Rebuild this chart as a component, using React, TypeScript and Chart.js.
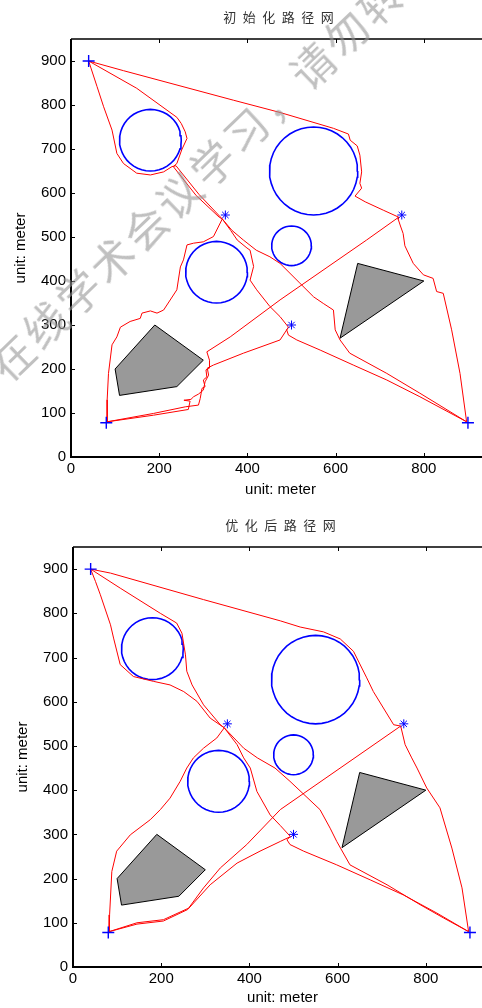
import React, { useEffect, useRef } from "react";
import { Chart, registerables } from "chart.js";

Chart.register(...registerables);
Chart.defaults.font.family = "'Liberation Sans', Arial, sans-serif";

// ---------- axes ----------
const X_TICKS = [0, 200, 400, 600, 800];
const Y_TICKS = [0, 100, 200, 300, 400, 500, 600, 700, 800, 900];
const AXIS_MAX = 950;

// ---------- nodes ----------
const START_X = [40, 80, 900];
const START_Y = [900, 78, 78];
const STAR_X = [350, 750, 500];
const STAR_Y = [550, 550, 300];

// ---------- obstacles ----------
const CIRCLE_X = [180, 550, 330, 500];
const CIRCLE_Y = [720, 650, 420, 480];
const CIRCLE_R = [70, 100, 70, 45];
const PENT_X = [190, 300, 240, 110, 100, 190];
const PENT_Y = [300, 220, 160, 140, 200, 300];
const TRI_X = [650, 800, 610, 650];
const TRI_Y = [440, 400, 270, 440];

// ---------- initial network (top) ----------
const I_P1S2_X = [40, 119, 368, 474, 595, 629, 633, 649, 655, 659, 655, 659, 644, 667, 708, 743];
const I_P1S2_Y = [900, 878, 811, 783, 747, 734, 720, 707, 686, 648, 622, 611, 593, 580, 561, 545];
const I_S2P3_X = [743, 742, 747, 753, 757, 776, 799, 821, 829, 844, 863, 882, 897];
const I_S2P3_Y = [545, 540, 525, 508, 480, 440, 414, 406, 376, 372, 289, 190, 80];
const I_P1S1A_X = [40, 149, 240, 250, 259, 263, 251, 240, 232, 284, 336, 343];
const I_P1S1A_Y = [900, 838, 772, 758, 739, 724, 698, 667, 660, 594, 545, 541];
const I_P1S1B_X = [40, 59, 74, 93, 104, 119, 149, 180, 210, 229, 238, 290, 343];
const I_P1S1B_Y = [900, 842, 796, 743, 690, 667, 645, 641, 648, 660, 662, 597, 541];
const I_S1S3_X = [343, 362, 377, 399, 406, 414, 406, 421, 451, 474, 493];
const I_S1S3_Y = [541, 515, 493, 475, 470, 433, 402, 380, 342, 319, 295];
const I_S1P3_X = [343, 365, 391, 420, 451, 474, 519, 550, 572, 595, 599, 610, 632, 716, 791, 897];
const I_S1P3_Y = [541, 515, 493, 470, 455, 440, 395, 364, 349, 334, 289, 266, 236, 190, 145, 80];
const I_S3P3_X = [493, 489, 493, 512, 565, 640, 716, 791, 897];
const I_S3P3_Y = [295, 289, 277, 266, 243, 209, 175, 137, 80];
const I_S1P2_X = [343, 323, 300, 278, 263, 255, 248, 240, 210, 195, 180, 161, 157, 134, 112, 104, 93, 85, 82, 82];
const I_S1P2_Y = [541, 501, 489, 486, 482, 448, 432, 380, 334, 327, 332, 327, 315, 308, 295, 273, 255, 190, 130, 80];
const I_P2S2_X = [82, 187, 259, 289, 293, 297, 304, 300, 308, 306, 314, 314, 308, 361, 474, 670, 743];
const I_P2S2_Y = [80, 99, 114, 118, 133, 156, 160, 175, 182, 198, 202, 220, 239, 273, 357, 493, 545];
const I_P2S3_X = [82, 187, 266, 270, 256, 272, 278, 289, 300, 304, 312, 309, 323, 391, 474, 493];
const I_P2S3_Y = [80, 95, 108, 127, 129, 131, 137, 143, 152, 171, 186, 202, 209, 236, 266, 295];

// ---------- optimized network (bottom) ----------
const O_P1S2_X = [40, 85, 296, 470, 515, 568, 606, 636, 666, 681, 727, 743];
const O_P1S2_Y = [900, 891, 831, 783, 769, 758, 742, 714, 654, 623, 548, 545];
const O_S2P3_X = [743, 753, 768, 780, 802, 832, 859, 882, 897];
const O_S2P3_Y = [545, 503, 473, 450, 405, 360, 269, 179, 80];
const O_P1S1A_X = [40, 107, 198, 235, 247, 255, 258, 270, 296, 334, 343];
const O_P1S1A_Y = [900, 857, 800, 778, 755, 706, 669, 638, 593, 548, 541];
const O_P1S1B_X = [40, 51, 62, 85, 92, 107, 137, 183, 220, 251, 281, 311, 343];
const O_P1S1B_Y = [900, 872, 842, 774, 744, 684, 657, 646, 638, 623, 601, 563, 541];
const O_S1S3_X = [343, 372, 387, 402, 417, 447, 470, 493];
const O_S1S3_Y = [541, 503, 473, 450, 397, 344, 320, 295];
const O_S1P3_X = [343, 387, 418, 458, 492, 560, 583, 598, 628, 712, 787, 840, 897];
const O_S1P3_Y = [541, 495, 473, 450, 420, 356, 314, 284, 231, 186, 141, 111, 80];
const O_S3P3_X = [493, 485, 492, 523, 598, 674, 749, 825, 897];
const O_S3P3_Y = [295, 288, 277, 262, 231, 197, 163, 122, 80];
const O_S1P2_X = [343, 326, 296, 273, 258, 243, 220, 198, 175, 130, 99, 88, 83, 82];
const O_S1P2_Y = [541, 518, 495, 473, 450, 420, 382, 356, 333, 299, 262, 216, 118, 80];
const O_P2S2_X = [82, 145, 205, 262, 296, 334, 394, 470, 743];
const O_P2S2_Y = [80, 100, 107, 133, 179, 224, 277, 356, 545];
const O_P2S3_X = [82, 145, 205, 260, 311, 372, 424, 470, 493];
const O_P2S3_Y = [80, 97, 104, 130, 186, 235, 262, 284, 295];

const INIT_PATHS = [
  [I_P1S2_X, I_P1S2_Y], [I_S2P3_X, I_S2P3_Y], [I_P1S1A_X, I_P1S1A_Y], [I_P1S1B_X, I_P1S1B_Y],
  [I_S1S3_X, I_S1S3_Y], [I_S1P3_X, I_S1P3_Y], [I_S3P3_X, I_S3P3_Y], [I_S1P2_X, I_S1P2_Y],
  [I_P2S2_X, I_P2S2_Y], [I_P2S3_X, I_P2S3_Y],
];
const OPT_PATHS = [
  [O_P1S2_X, O_P1S2_Y], [O_S2P3_X, O_S2P3_Y], [O_P1S1A_X, O_P1S1A_Y], [O_P1S1B_X, O_P1S1B_Y],
  [O_S1S3_X, O_S1S3_Y], [O_S1P3_X, O_S1P3_Y], [O_S3P3_X, O_S3P3_Y], [O_S1P2_X, O_S1P2_Y],
  [O_P2S2_X, O_P2S2_Y], [O_P2S3_X, O_P2S3_Y],
];

const TITLE_TOP = "初始化路径网";
const TITLE_BOTTOM = "优化后路径网";
const AXIS_LABEL = "unit: meter";
const WATERMARK = "在线学术会议学习，请勿转载";

// ---------- layout ----------
const CW = 500;
const CH = 500;
const PLOT_TOP = 39;
const PLOT_LEFT = 71;
const PLOT_RIGHT = 490;

const pts = (xs: number[], ys: number[]) => xs.map((x, i) => ({ x, y: ys[i] }));

function circlePts(cx: number, cy: number, r: number) {
  const n = 44;
  const out: { x: number; y: number }[] = [];
  for (let k = 0; k <= n; k++) {
    const a = (2 * Math.PI * k) / n;
    out.push({ x: cx + r * Math.cos(a), y: cy + r * Math.sin(a) });
  }
  return out;
}

function buildDatasets(paths: number[][][]) {
  const ds: any[] = [];
  ds.push({
    data: pts(START_X, START_Y), showLine: false, pointStyle: "cross", pointRadius: 6,
    pointBorderColor: "#0000ff", pointBorderWidth: 1.4, borderColor: "#0000ff",
  });
  ds.push({
    data: pts(STAR_X, STAR_Y), showLine: false, pointStyle: "star", pointRadius: 4.5,
    pointBorderColor: "#0000ff", pointBorderWidth: 1, borderColor: "#0000ff",
  });
  paths.forEach(([xs, ys]) => {
    ds.push({ data: pts(xs, ys), borderColor: "#ff0000", borderWidth: 1, pointRadius: 0, fill: false, tension: 0 });
  });
  CIRCLE_X.forEach((cx, i) => {
    ds.push({ data: circlePts(cx, CIRCLE_Y[i], CIRCLE_R[i]), borderColor: "#0000ff", borderWidth: 1.6, pointRadius: 0, fill: false, tension: 0 });
  });
  ds.push({ data: pts(PENT_X, PENT_Y), borderColor: "#000000", borderWidth: 1, backgroundColor: "#999999", pointRadius: 0, fill: "shape", tension: 0 });
  ds.push({ data: pts(TRI_X, TRI_Y), borderColor: "#000000", borderWidth: 1, backgroundColor: "#999999", pointRadius: 0, fill: "shape", tension: 0 });
  return ds;
}

const framePlugin = {
  id: "frameTicks",
  afterDraw(chart: any) {
    const { ctx, chartArea: ca, scales } = chart;
    const xs = scales.x;
    const ys = scales.y;
    ctx.save();
    ctx.strokeStyle = "#000";
    ctx.lineWidth = 1;
    ctx.beginPath();
    for (const v of X_TICKS) {
      const p = Math.round(xs.getPixelForValue(v)) + 0.5;
      ctx.moveTo(p, ca.bottom); ctx.lineTo(p, ca.bottom - 4);
      ctx.moveTo(p, ca.top); ctx.lineTo(p, ca.top + 4);
    }
    for (const v of Y_TICKS) {
      const p = Math.round(ys.getPixelForValue(v)) + 0.5;
      ctx.moveTo(ca.left, p); ctx.lineTo(ca.left + 4, p);
      ctx.moveTo(ca.right, p); ctx.lineTo(ca.right - 4, p);
    }
    ctx.stroke();
    ctx.lineWidth = 1.3;
    ctx.beginPath();
    ctx.moveTo(ca.left, ca.top); ctx.lineTo(ca.right, ca.top); ctx.lineTo(ca.right, ca.bottom);
    ctx.stroke();
    ctx.lineWidth = 2;
    ctx.beginPath();
    ctx.moveTo(ca.left, ca.top); ctx.lineTo(ca.left, ca.bottom); ctx.lineTo(ca.right, ca.bottom);
    ctx.stroke();
    ctx.restore();
  },
};

const titlePlugin = {
  id: "cnTitle",
  afterDraw(chart: any, _args: any, opts: any) {
    const { ctx, chartArea: ca } = chart;
    const text: string = opts.text || "";
    ctx.save();
    ctx.font = "13px 'Noto Sans CJK SC', sans-serif";
    ctx.fillStyle = "#333";
    ctx.textBaseline = "middle";
    ctx.textAlign = "left";
    const sp = 6.5;
    (ctx as any).letterSpacing = sp + "px";
    const w = ctx.measureText(text).width - sp;
    const cx = (ca.left + ca.right) / 2 - 2;
    ctx.fillText(text, cx - w / 2, 17);
    ctx.restore();
  },
};

function makeConfig(paths: number[][][], title: string, plotBottom: number): any {
  return {
    type: "line",
    data: { datasets: buildDatasets(paths) },
    options: {
      responsive: false,
      animation: false,
      devicePixelRatio: 1,
      events: [],
      layout: { padding: { top: PLOT_TOP, left: 0, right: CW - PLOT_RIGHT, bottom: 0 } },
      plugins: {
        legend: { display: false },
        tooltip: { enabled: false },
        title: { display: false },
        cnTitle: { text: title },
      },
      scales: {
        x: {
          type: "linear", min: 0, max: AXIS_MAX,
          afterBuildTicks: (s: any) => { s.ticks = X_TICKS.map((v) => ({ value: v })); },
          afterFit: (s: any) => { s.height = CH - plotBottom; },
          grid: { display: false, drawTicks: false },
          border: { display: false },
          ticks: { padding: 3, color: "#000", font: { size: 15 }, maxRotation: 0, callback: (v: any) => String(v) },
          title: { display: true, text: AXIS_LABEL, color: "#000", font: { size: 15 }, padding: { top: 0, bottom: 1 } },
        },
        y: {
          type: "linear", min: 0, max: AXIS_MAX,
          afterBuildTicks: (s: any) => { s.ticks = Y_TICKS.map((v) => ({ value: v })); },
          afterFit: (s: any) => { s.width = PLOT_LEFT; },
          grid: { display: false, drawTicks: false },
          border: { display: false },
          ticks: { padding: 5, color: "#000", font: { size: 15 }, callback: (v: any) => String(v) },
          title: { display: true, text: AXIS_LABEL, color: "#000", font: { size: 15 }, padding: { top: 12, bottom: 0 } },
        },
      },
    },
    plugins: [framePlugin, titlePlugin],
  };
}

function PathChart({ paths, title, plotBottom, left, top }: { paths: number[][][]; title: string; plotBottom: number; left: number; top: number }) {
  const ref = useRef<HTMLCanvasElement | null>(null);
  useEffect(() => {
    if (!ref.current) return;
    const chart = new Chart(ref.current, makeConfig(paths, title, plotBottom));
    return () => chart.destroy();
  }, [paths, title, plotBottom]);
  return (
    <canvas
      ref={ref}
      width={CW}
      height={CH}
      style={{ position: "absolute", left, top, width: CW, height: CH }}
    />
  );
}

export default function App() {
  return (
    <div style={{ position: "absolute", left: 0, top: 0, width: 482, height: 1008, overflow: "hidden", background: "#fff" }}>
      <PathChart paths={INIT_PATHS} title={TITLE_TOP} plotBottom={457} left={0} top={0} />
      <PathChart paths={OPT_PATHS} title={TITLE_BOTTOM} plotBottom={459} left={2} top={508} />
      <div
        style={{
          position: "absolute",
          left: -5,
          top: 349,
          fontFamily: "'Noto Sans CJK SC', sans-serif",
          fontSize: 43,
          lineHeight: "43px",
          letterSpacing: 3.5,
          whiteSpace: "nowrap",
          color: "rgba(150,150,150,0.6)",
          transformOrigin: "0 50%",
          transform: "rotate(-44deg)",
          pointerEvents: "none",
        }}
      >
        {WATERMARK}
      </div>
    </div>
  );
}
